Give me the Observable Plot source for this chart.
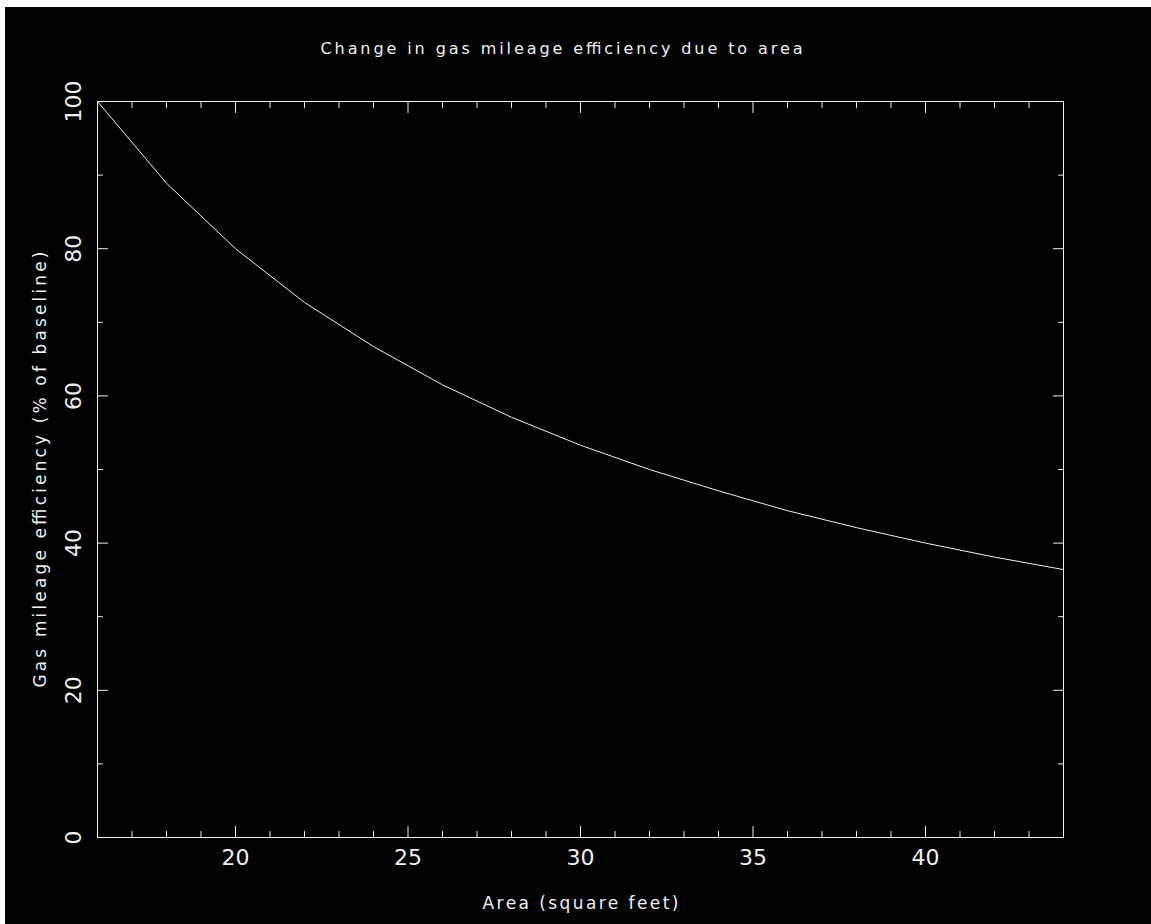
<!DOCTYPE html>
<html>
<head>
<meta charset="utf-8">
<script src="https://cdn.jsdelivr.net/npm/d3@7"></script>
<script src="https://cdn.jsdelivr.net/npm/@observablehq/plot@0.6"></script>
<style>
  html, body { margin: 0; padding: 0; background: #ffffff; }
  #chart { position: absolute; left: 5px; top: 7px; width: 1146px; height: 917px; background: #000; }
</style>
</head>
<body>
<div id="chart"></div>
<script>
// ---- data ----
const areaValues = [16, 18, 20, 22, 24, 26, 28, 30, 32, 34, 36, 38, 40, 42, 44];
const efficiencyValues = [100, 88.9, 80, 72.7, 66.7, 61.5, 57.1, 53.3, 50, 47.1, 44.4, 42.1, 40, 38.1, 36.4];
const xMajorTicks = [20, 25, 30, 35, 40];
const xMinorTicks = [17, 18, 19, 21, 22, 23, 24, 26, 27, 28, 29, 31, 32, 33, 34, 36, 37, 38, 39, 41, 42, 43];
const yMajorTicks = [0, 20, 40, 60, 80, 100];
const yMinorTicks = [10, 30, 50, 70, 90];
const titleText = "Change in gas mileage efficiency due to area";
const xLabelText = "Area (square feet)";
const yLabelText = "Gas mileage efficiency (% of baseline)";

const rows = areaValues.map((a, i) => ({area: a, eff: efficiencyValues[i]}));

const tickShape = {draw(context, l) { context.moveTo(0, 0); context.lineTo(0, -l); }};
const FONT = "'DejaVu Sans', sans-serif";
const INK = "#f0f0f0";

function ticks(data, channel, frameAnchor, rotate, length) {
  return Plot.vector(data, {
    [channel]: d => d, frameAnchor, rotate, length, anchor: "start",
    shape: tickShape, stroke: INK, strokeWidth: 1
  });
}

const centered = {textAnchor: "middle", lineAnchor: "middle", fill: INK};

const chart = Plot.plot({
  width: 1146,
  height: 917,
  marginLeft: 92,
  marginRight: 88,
  marginTop: 94,
  marginBottom: 87,
  style: {background: "#000", color: INK, fontFamily: FONT},
  x: {domain: [16, 44], axis: null},
  y: {domain: [0, 100], axis: null},
  marks: [
    Plot.frame({stroke: INK, strokeWidth: 1}),
    // bottom & top ticks (pointing inward)
    ticks(xMajorTicks, "x", "bottom", 0, 11),
    ticks(xMinorTicks, "x", "bottom", 0, 6),
    ticks(xMajorTicks, "x", "top", 180, 11),
    ticks(xMinorTicks, "x", "top", 180, 6),
    // left & right ticks (pointing inward)
    ticks(yMajorTicks, "y", "left", 90, 10),
    ticks(yMinorTicks, "y", "left", 90, 5),
    ticks(yMajorTicks, "y", "right", -90, 10),
    ticks(yMinorTicks, "y", "right", -90, 5),
    // tick labels
    Plot.text(xMajorTicks, {x: d => d, text: d => String(d), frameAnchor: "bottom", dy: 20, fontSize: 22, ...centered}),
    Plot.text(yMajorTicks, {y: d => d, text: d => String(d), frameAnchor: "left", dx: -24, rotate: -90, fontSize: 22, ...centered}),
    // axis labels and title
    Plot.text([xLabelText], {text: d => d, frameAnchor: "bottom", dy: 66, fontSize: 17, ...centered}),
    Plot.text([yLabelText], {text: d => d, frameAnchor: "left", dx: -57, rotate: -90, fontSize: 17, ...centered}),
    Plot.text([titleText], {text: d => d, frameAnchor: "top", dy: -53, dx: -19, fontSize: 16, ...centered}),
    // the curve
    Plot.line(rows, {x: "area", y: "eff", stroke: INK, strokeWidth: 1})
  ]
});

// stretch the wide stroke-font labels to the reference widths
const textWidths = new Map([[titleText, 482], [xLabelText, 196], [yLabelText, 436]]);
d3.select(chart).selectAll("text").each(function () {
  const w = textWidths.get(this.textContent);
  if (w) { this.setAttribute("textLength", w); this.setAttribute("lengthAdjust", "spacing"); }
});

document.getElementById("chart").appendChild(chart);
</script>
</body>
</html>
